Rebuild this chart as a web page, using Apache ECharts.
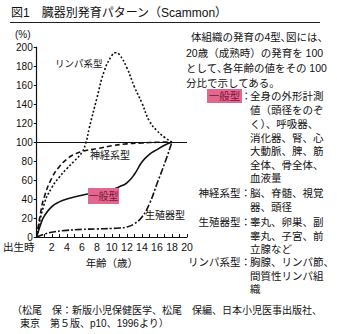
<!DOCTYPE html>
<html><head><meta charset="utf-8">
<script src="https://cdn.jsdelivr.net/npm/echarts@6/dist/echarts.min.js"></script>
<style>html,body{margin:0;padding:0;background:#fff}#c{width:337px;height:334px}</style>
</head><body><div id="c"></div>
<script>
const FONT = "'Liberation Sans','Noto Sans CJK JP',sans-serif";
const title = "図1　臓器別発育パターン（Scammon）";
const xName = "年齢（歳）";
const yName = "(%)";
const seriesNames = ["リンパ系型", "神経系型", "一般型", "生殖器型"];
// [age, %]
const lymphData = [[0,0],[1,35],[2,52],[3,63],[4,72],[5,80],[6,89],[6.5,98],[7,115],[8,146],[9,175],[10,191],[10.5,194],[11,192],[12,178],[13,158],[14,141],[15,122],[16,112],[17,105],[18,100]];
const neuralData = [[0,0],[0.5,25],[1,42],[2,62],[3,74],[4,82],[5,87],[6,90],[8,93],[10,96],[12,98],[14,99],[16,99.7],[18,100]];
const generalData = [[0,0],[0.5,13],[1,22],[2,32],[3,37],[4,40],[6,44],[8,47],[10,50],[11,53],[12,57],[13,66],[14,79],[15,87],[16,92],[17,96.5],[18,100]];
const reproData = [[0,0],[1,3],[2,5],[4,7],[6,8],[8,8.5],[10,9],[11,9.5],[12,10.5],[13,14],[14,21],[15,35],[16,56],[17,77],[18,100]];
const refValue = 100;

const introLines = [
  ["体組織の発育の4型､図には、", 191, 37],
  ["20歳（成熟時）の発育を 100", 186, 53],
  ["として､各年齢の値をその 100", 186, 68],
  ["分比で示してある。", 186, 83]
];
const defLabels = [["神経系型：", 193], ["生殖器型：", 222], ["リンパ系型：", 262]];
const defLines = [
  ["全身の外形計測", 96], ["値（頭径をのぞ", 110], ["く）、呼吸器、", 124], ["消化器、腎、心", 138],
  ["大動脈、脾、筋", 151], ["全体、骨全体、", 165], ["血液量", 178],
  ["脳、脊髄、視覚", 193], ["器、頭径", 207],
  ["睾丸、卵巣、副", 222], ["睾丸、子宮、前", 236], ["立腺など", 249],
  ["胸腺、リンパ節、", 262], ["間質性リンパ組", 276], ["織", 289]
];
const footer = ["（松尾　保：新版小児保健医学、松尾　保編、日本小児医事出版社、", "東京　第５版、p10、1996より）"];

const chart = echarts.init(document.getElementById('c'), null, {renderer: 'svg'});
const txt = (t, x, y, o) => ({type: 'text', x: x, y: y, z: 101,
  style: Object.assign({text: t, font: "10.5px " + FONT, fill: '#111', align: 'left', verticalAlign: 'middle'}, o || {})});

const graphics = [
  txt(title, 11, 13, {font: "12px " + FONT}),
  {type: 'line', z: 100, shape: {x1: 10, y1: 22.5, x2: 320, y2: 22.5}, style: {stroke: '#222', lineWidth: 1}},
  txt(yName, 15, 34, {font: "10px " + FONT}),
  txt(seriesNames[0], 55, 63, {font: "9.5px " + FONT}),
  txt(seriesNames[1], 90, 155, {font: "10px " + FONT}),
  txt(seriesNames[3], 145, 215, {font: "10px " + FONT}),
  {type: 'rect', z: 100, shape: {x: 88, y: 188, width: 31, height: 16}, style: {fill: '#e2678f'}},
  txt(seriesNames[2], 103.5, 196, {font: "10px " + FONT, fill: '#7a1436', align: 'center'}),
  {type: 'rect', z: 100, shape: {x: 207, y: 89, width: 35, height: 14}, style: {fill: '#e2678f'}},
  txt(seriesNames[2], 224.5, 96, {fill: '#7a1436', align: 'center'}),
  txt("：", 241, 96)
];
introLines.forEach(l => graphics.push(txt(l[0], l[1], l[2])));
defLabels.forEach(l => graphics.push(txt(l[0], 251, l[1], {align: 'right'})));
defLines.forEach(l => graphics.push(txt(l[0], 250, l[1])));
graphics.push(txt(footer[0], 12, 310, {font: "10px " + FONT}));
graphics.push(txt(footer[1], 20, 323, {font: "10px " + FONT}));

const lineSeries = (name, data, type) => ({
  name: name, type: 'line', data: data, smooth: 0.5, showSymbol: false, symbol: 'none',
  lineStyle: {color: '#111', width: 1.6, type: type}, z: 3
});

chart.setOption({
  animation: false,
  grid: {left: 35, top: 47, width: 152, height: 190},
  xAxis: {
    type: 'value', min: 0, max: 20, interval: 2,
    name: xName, nameLocation: 'middle', nameGap: 20,
    nameTextStyle: {fontFamily: FONT, fontSize: 10.5, color: '#111'},
    axisLine: {lineStyle: {color: '#111', width: 1.2}},
    axisTick: {inside: true, length: 3, lineStyle: {color: '#111'}},
    minorTick: {show: true, splitNumber: 2, length: 3, lineStyle: {color: '#111'}},
    splitLine: {show: false},
    axisLabel: {
      margin: 5, fontFamily: FONT, fontSize: 10.5, color: '#111',
      formatter: v => v === 0 ? '{a|出生時}' : String(v),
      rich: {a: {fontFamily: FONT, fontSize: 10.5, color: '#111', padding: [0, 36, 0, 0]}}
    }
  },
  yAxis: {
    type: 'value', min: 0, max: 200, interval: 20,
    axisLine: {show: true, lineStyle: {color: '#111', width: 1.2}},
    axisTick: {show: true, length: 3, lineStyle: {color: '#111'}},
    splitLine: {show: false},
    axisLabel: {margin: 4, fontFamily: FONT, fontSize: 10, color: '#111'}
  },
  graphic: graphics,
  series: [
    lineSeries(seriesNames[0], lymphData, [2, 2]),
    lineSeries(seriesNames[1], neuralData, [5, 3]),
    Object.assign(lineSeries(seriesNames[2], generalData, 'solid'), {
      markLine: {silent: true, symbol: 'none', label: {show: false},
        lineStyle: {color: '#111', type: 'solid', width: 1.2}, data: [{yAxis: refValue}]}
    }),
    lineSeries(seriesNames[3], reproData, [7, 2, 2, 2])
  ]
});
</script></body></html>
